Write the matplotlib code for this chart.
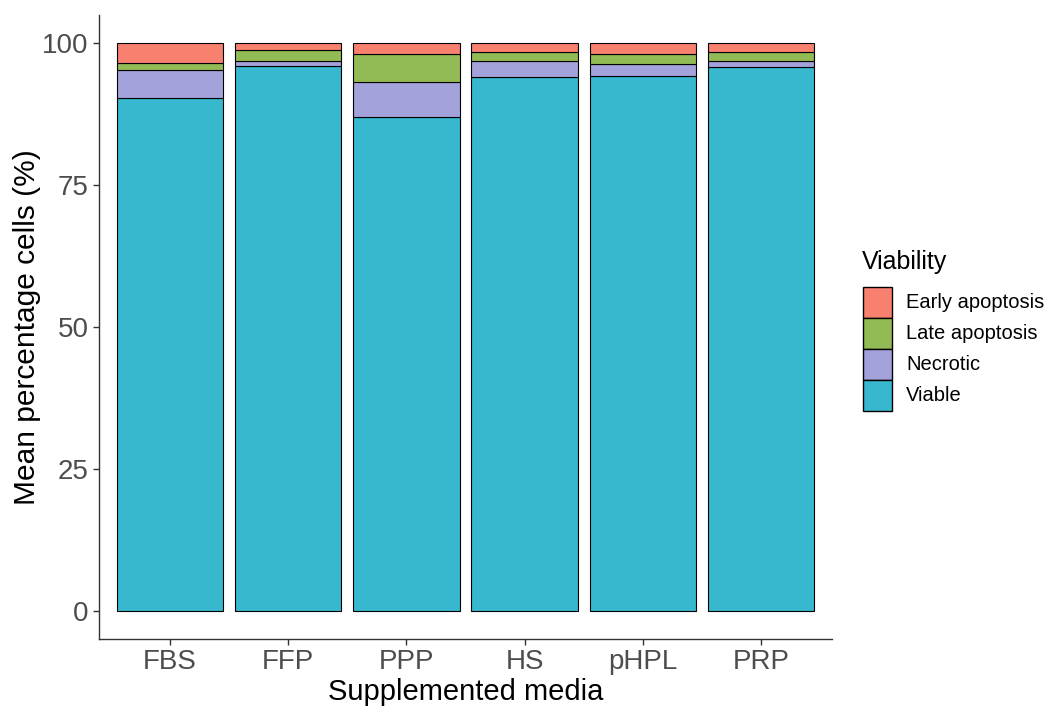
import matplotlib.pyplot as plt
import numpy as np
from matplotlib.patches import Rectangle

plt.rcParams['font.family'] = ['Liberation Sans', 'DejaVu Sans']

media = ["FBS", "FFP", "PPP", "HS", "pHPL", "PRP"]
viable = [90.3, 96.0, 87.0, 94.0, 94.3, 95.8]
necrotic = [5.0, 0.9, 6.2, 2.9, 2.1, 1.1]
late_apoptosis = [1.2, 1.9, 5.0, 1.5, 1.7, 1.5]
early_apoptosis = [3.5, 1.2, 1.8, 1.6, 1.9, 1.6]

# stacking order bottom -> top
layers = [
    ("Viable", viable, "#38B8CE"),
    ("Necrotic", necrotic, "#A4A2DA"),
    ("Late apoptosis", late_apoptosis, "#93BB55"),
    ("Early apoptosis", early_apoptosis, "#F8806F"),
]

W, H = 1054, 708
fig = plt.figure(figsize=(W / 100, H / 100), dpi=100)
ax = fig.add_axes([99 / W, (H - 639) / H, (832 - 99) / W, (639 - 15) / H])

x = np.arange(1, len(media) + 1)
bottom = np.zeros(len(media))
for name, vals, col in layers:
    vals = np.array(vals)
    ax.bar(x, vals, width=0.9, bottom=bottom, color=col,
           edgecolor="black", linewidth=0.8)
    bottom += vals

ax.set_xlim(0.4, 6.6)
ax.set_ylim(-5, 105)
ax.set_xticks(x)
ax.set_xticklabels(media)
ax.set_yticks([0, 25, 50, 75, 100])
ax.tick_params(axis="both", labelsize=20, colors="#333333", labelcolor="#4D4D4D",
               length=4.5, width=1.0, pad=3)
for side in ["top", "right"]:
    ax.spines[side].set_visible(False)
for side in ["left", "bottom"]:
    ax.spines[side].set_color("#333333")
    ax.spines[side].set_linewidth(1.0)

ax.set_xlabel("Supplemented media", fontsize=21, color="black", labelpad=2)
ax.set_ylabel("Mean percentage cells (%)", fontsize=21.5, color="black", labelpad=1)

# legend drawn in figure pixel coordinates (origin at top-left)
def px(xp, yp):
    return xp / W, (H - yp) / H

fig.text(*px(862, 262), "Viability", fontsize=18, va="center", ha="left")
key_top, key_h, key_w = 287, 31, 29
for i, (name, _, col) in enumerate(layers[::-1]):
    y0 = key_top + i * key_h
    fig.add_artist(Rectangle(px(863, y0 + key_h), key_w / W, key_h / H,
                             transform=fig.transFigure, facecolor=col,
                             edgecolor="black", linewidth=1.0))
    fig.text(*px(906, y0 + key_h / 2), name, fontsize=14.5, va="center", ha="left")

fig.savefig("out.png", dpi=100)
